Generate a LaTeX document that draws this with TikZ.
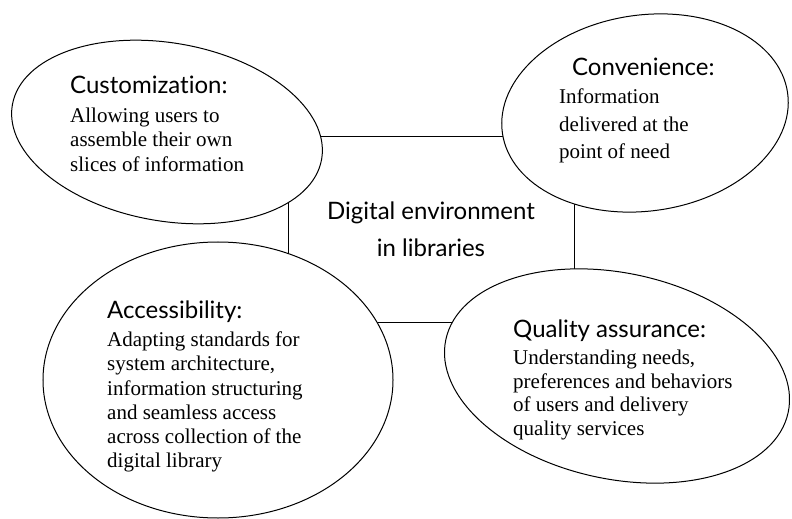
\documentclass[tikz,border=0pt]{standalone}
\usepackage{fontspec}
\setmainfont{Liberation Serif}
\newfontfamily\headfont[Ligatures=NoCommon]{Lato}
\usetikzlibrary{shapes.geometric}

\tikzset{
  blob/.style={ellipse, draw, fill=white, line width=1bp, inner sep=0pt},
  core/.style={rectangle, draw, line width=1bp, inner sep=0pt, align=center,
    font=\headfont\fontsize{24bp}{37bp}\selectfont},
  headtext/.style={anchor=base west, inner sep=0pt,
    font=\headfont\fontsize{24bp}{28bp}\selectfont},
  bodytext/.style={anchor=north west, inner sep=0pt, align=left,
    font=\fontsize{21bp}{24.5bp}\selectfont}
}

\begin{document}
\begin{tikzpicture}[x=1bp, y=-1bp]
  \useasboundingbox (0,0) rectangle (792,519);

  % Centre box, partly hidden by the ellipses
  \node[core, minimum width=286bp, minimum height=185bp] (env) at (431,229.5)
    {Digital environment\\in libraries};

  % Ellipses
  \node[blob, rotate=-10, minimum width=314bp, minimum height=178bp] (custom) at (167,132) {};
  \node[blob, rotate=8, minimum width=288bp, minimum height=196bp] (conv) at (645,113) {};
  \node[blob, minimum width=350bp, minimum height=276bp] (access) at (218,380) {};
  \node[blob, rotate=-12, minimum width=350bp, minimum height=206bp] (quality) at (617,376) {};

  % Customization
  \node[headtext] (customhead) at (70,94) {Customization:};
  \node[bodytext] (custombody) at (70,107.7)
    {Allowing users to\\assemble their own\\slices of information};

  % Convenience
  \node[headtext] (convhead) at (572,76) {Convenience:};
  \node[bodytext, font=\fontsize{21bp}{27.5bp}\selectfont] (convbody) at (559,88.7)
    {Information\\delivered at the\\point of need};

  % Accessibility
  \node[headtext] (accesshead) at (107,318) {Accessibility:};
  \node[bodytext, font=\fontsize{21bp}{24.2bp}\selectfont] (accessbody) at (107,331.7)
    {Adapting standards for\\system architecture,\\information structuring\\and seamless access\\across collection of the\\digital library};

  % Quality assurance
  \node[headtext] (qualityhead) at (513,337) {Quality assurance:};
  \node[bodytext, font=\fontsize{21bp}{23.7bp}\selectfont] (qualitybody) at (513,349.7)
    {Understanding needs,\\preferences and behaviors\\of users and delivery\\quality services};
\end{tikzpicture}
\end{document}
